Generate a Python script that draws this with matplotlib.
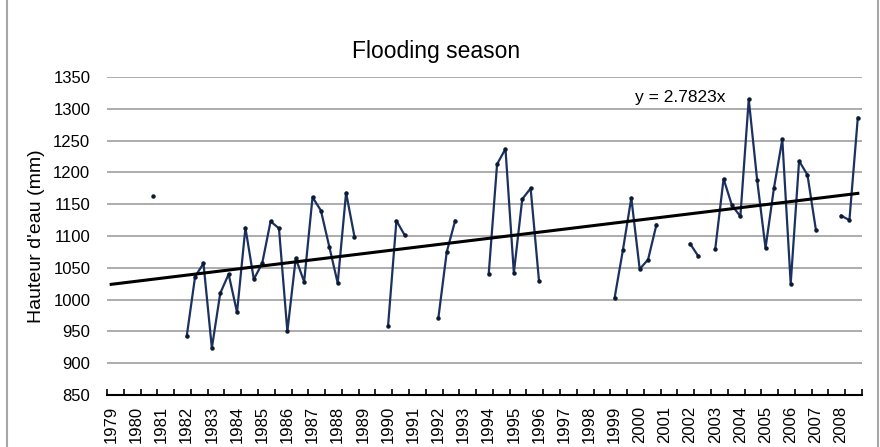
import matplotlib
matplotlib.use('Agg')
import matplotlib.pyplot as plt
import numpy as np
from matplotlib.patches import Rectangle

plt.rcParams['font.family'] = ['Liberation Sans', 'DejaVu Sans']

# three readings per year over the flooding season, nan = no data
years = [str(y) for y in range(1979, 2009)]
hauteur = [
    np.nan, np.nan, np.nan,      # 1979
    np.nan, np.nan, 1163,        # 1980
    np.nan, np.nan, np.nan,      # 1981
    942, 1036, 1057,             # 1982
    924, 1010, 1040,             # 1983
    980, 1113, 1032,             # 1984
    1057, 1123, 1112,            # 1985
    950, 1065, 1028,             # 1986
    1161, 1140, 1083,            # 1987
    1026, 1168, 1099,            # 1988
    np.nan, np.nan, np.nan,      # 1989
    958, 1124, 1101,             # 1990
    np.nan, np.nan, np.nan,      # 1991
    971, 1075, 1124,             # 1992
    np.nan, np.nan, np.nan,      # 1993
    1040, 1213, 1237,            # 1994
    1042, 1158, 1175,            # 1995
    1029, np.nan, np.nan,        # 1996
    np.nan, np.nan, np.nan,      # 1997
    np.nan, np.nan, np.nan,      # 1998
    1002, 1078, 1160,            # 1999
    1048, 1063, 1118,            # 2000
    np.nan, np.nan, np.nan,      # 2001
    1088, 1068, np.nan,          # 2002
    1079, 1190, 1148,            # 2003
    1131, 1315, 1188,            # 2004
    1081, 1175, 1252,            # 2005
    1025, 1218, 1196,            # 2006
    1110, np.nan, np.nan,        # 2007
    1132, 1125, 1286,            # 2008
]
trend_ends = [1024, 1167]
equation = 'y = 2.7823x'

x = np.arange(len(hauteur))
y = np.array(hauteur, dtype=float)

fig = plt.figure(figsize=(8.8, 4.47), dpi=100)
ax = fig.add_axes([107/880, 52/447, 755/880, 318/447])

ax.set_ylim(850, 1350)
ax.set_yticks(np.arange(850, 1351, 50))
ax.grid(axis='y', color='#a6a6a6', linewidth=1.3)
ax.set_axisbelow(True)

ax.plot(x, y, color='#1b3160', linewidth=1.6, marker='o', markersize=2.2,
        markerfacecolor='#0d1a33', markeredgecolor='#0d1a33', zorder=3)
ax.plot([x[0], x[-1]], trend_ends, color='black', linewidth=2.2, zorder=4)
ax.text(62.4, 1318, equation, fontsize=12.5, ha='left', va='center')

ax.set_xlim(-0.5, len(hauteur) - 0.5)
ax.set_xticks(x[::3])
ax.set_xticklabels(years, rotation=90, fontsize=12)
ax.set_xticks(np.arange(-0.5, len(hauteur), 2), minor=True)
ax.tick_params(axis='x', which='major', length=0, pad=8)
ax.tick_params(axis='x', which='minor', direction='in', length=4, width=1.2, color='black')
ax.tick_params(axis='y', length=0, labelsize=12, pad=12)

for side in ['left', 'top', 'right']:
    ax.spines[side].set_visible(False)
ax.spines['bottom'].set_linewidth(1.5)

ax.set_ylabel("Hauteur d'eau (mm)", fontsize=14, labelpad=6)
fig.text(0.495, 0.885, 'Flooding season', fontsize=16.5, ha='center', va='center')

fig.patches.append(Rectangle((7/880, -0.02), 871/880, 1.04, transform=fig.transFigure,
                             fill=False, edgecolor='#a6a6a6', linewidth=1.5))

fig.savefig('out.png', dpi=100)
